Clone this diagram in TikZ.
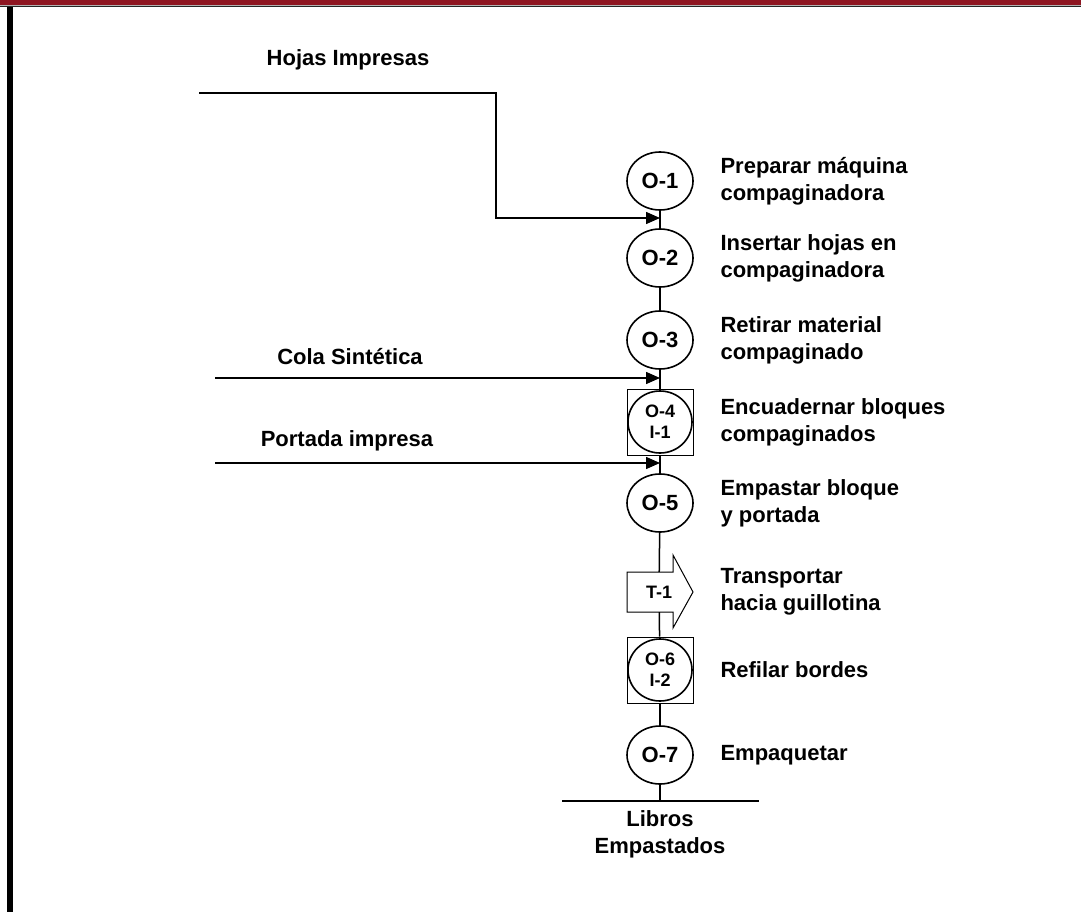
\documentclass[tikz,border=0pt]{standalone}
\usepackage{fontspec}
\setmainfont{Liberation Sans}
\usetikzlibrary{shapes.geometric,arrows.meta,calc}
\definecolor{barred}{RGB}{142,22,34}
\begin{document}
\begin{tikzpicture}[x=1pt,y=-1pt,
  every node/.style={font=\fontsize{22}{27}\selectfont\bfseries},
  flow/.style={line width=1.5pt},
  op/.style={draw, ellipse, line width=1.6pt, minimum width=66pt, minimum height=58pt, inner sep=0pt, fill=white},
  opin/.style={draw, ellipse, line width=1.6pt, minimum width=64pt, minimum height=62pt, inner sep=0pt,
               font=\fontsize{18}{21}\selectfont\bfseries, align=center},
  combo/.style={draw, rectangle, line width=1pt, minimum width=66pt, minimum height=66pt, inner sep=0pt, fill=white},
  desc/.style={anchor=west, align=left},
  feed/.style={line width=1.5pt, -{Triangle[length=14pt,width=12pt]}},
]
\useasboundingbox (0,0) rectangle (1081,912);
% page frame
\fill[barred] (0,0) rectangle (1081,5.2);
\fill[gray!60] (0,5.2) rectangle (1081,5.8);
\fill[black!85] (0,5.8) rectangle (1081,7);
\fill[black] (6.7,7) rectangle (12.7,912);

% operations along the main line
\node[op] (o1) at (660,181) {O-1};
\node[op] (o2) at (660,258) {O-2};
\node[op] (o3) at (660,340) {O-3};
\node[combo] (b4) at (660,422) {};
\node[opin] (o4) at (660,422) {O-4\\I-1};
\node[op] (o5) at (660,503) {O-5};
% transport arrow
\draw[line width=1pt, fill=white] (627,572) -- (673,572) -- (673,555) -- (693,592)
  -- (673,628) -- (673,612) -- (627,612) -- cycle;
\node[inner sep=0pt, minimum height=40pt, font=\fontsize{18}{21}\selectfont\bfseries] (t1) at (659,592) {T-1};
\node[combo] (b6) at (660,670) {};
\node[opin] (o6) at (660,670) {O-6\\I-2};
\node[op] (o7) at (660,755) {O-7};

% main flow
\draw[flow] (o1) -- (o2);
\draw[flow] (o2) -- (o3);
\draw[flow] (o3) -- (b4);
\draw[flow] (b4) -- (o5);
\draw[flow] (o5) -- (t1);
\draw[flow] (t1) -- (b6);
\draw[flow] (b6) -- (o7);

% finished product
\coordinate (bl) at (562,801);
\coordinate (br) at (759,801);
\coordinate (bm) at (660,801);
\draw[flow] (bl) -- (br);
\draw[flow] (o7) -- (bm);
\node[align=center] (prod) at (660,834) {Libros\\Empastados};

% incoming materials
\coordinate (hin) at (199,93);
\coordinate (hk) at (496,93);
\coordinate (j1) at (660,218);
\coordinate (cin) at (215,378);
\coordinate (j2) at (660,378);
\coordinate (pin) at (215,463);
\coordinate (j3) at (660,463);
\draw[feed] (hin) -- (hk) |- (j1);
\draw[feed] (cin) -- (j2);
\draw[feed] (pin) -- (j3);
\node (lh) at (348,60) {Hojas Impresas};
\node (lc) at (350,357) {Cola Sintética};
\node (lp) at (347,441) {Portada impresa};

% activity descriptions
\node[desc] (d1) at (717,181) {Preparar máquina\\compaginadora};
\node[desc] (d2) at (717,258) {Insertar hojas en\\compaginadora};
\node[desc] (d3) at (717,340) {Retirar material\\compaginado};
\node[desc] (d4) at (717,422) {Encuadernar bloques\\compaginados};
\node[desc] (d5) at (717,503) {Empastar bloque\\y portada};
\node[desc] (d6) at (717,592) {Transportar\\hacia guillotina};
\node[desc] (d7) at (717,670) {Refilar bordes};
\node[desc] (d8) at (717,755) {Empaquetar};
\end{tikzpicture}
\end{document}
